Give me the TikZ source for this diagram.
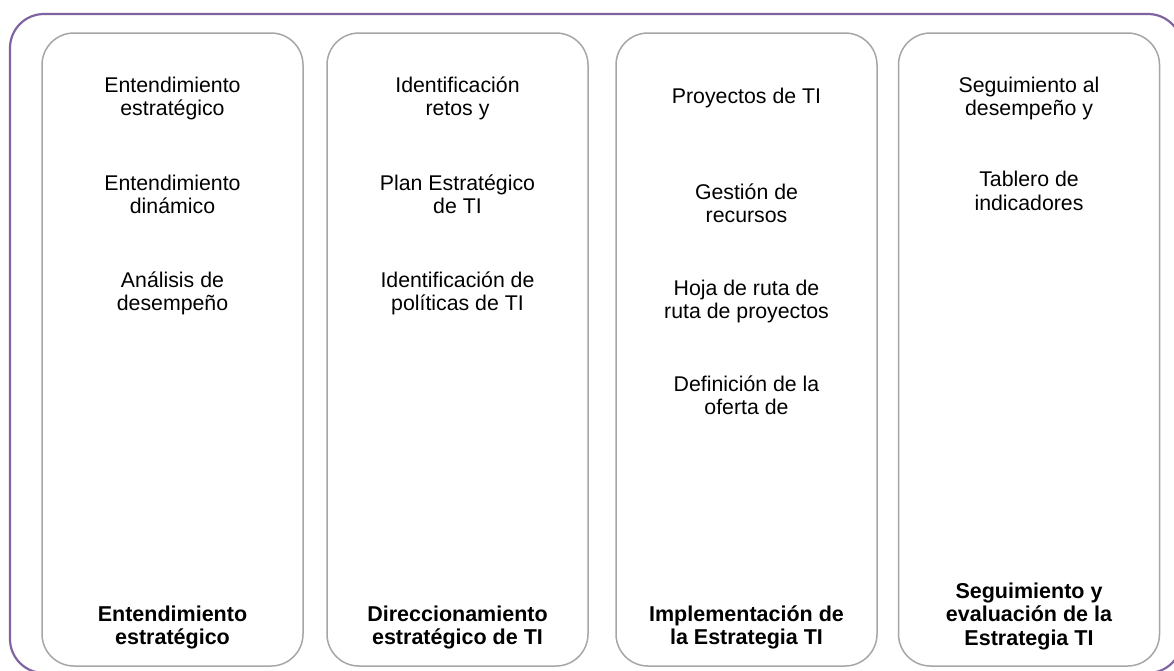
\documentclass[tikz,border=0pt]{standalone}
\usepackage{fontspec}
\setmainfont{Liberation Sans}
\definecolor{framepurple}{HTML}{8064A2}
\definecolor{boxgray}{HTML}{A6A6A6}
\newcommand{\itemfont}{\fontsize{21.3}{23.5}\selectfont}
\newcommand{\titlefont}{\fontsize{21.5}{23.5}\selectfont\bfseries}
\tikzset{
  colbox/.style={draw=boxgray, line width=1.5pt, rounded corners=32pt,
    minimum width=261pt, minimum height=633pt, inner sep=0pt},
  itemtext/.style={align=center, font=\itemfont, anchor=base, inner sep=0pt},
  titletext/.style={align=center, font=\titlefont, anchor=base, inner sep=0pt},
}
\begin{document}
\begin{tikzpicture}[x=1pt,y=-1pt]
\clip (0,0) rectangle (1174,670);
\fill[white] (0,0) rectangle (1174,670);
\draw[framepurple, line width=2.2pt, rounded corners=34pt] (10,14) rectangle (1182,673);

\node[colbox] (c1) at (172.5,349.5) {};
\node[colbox] (c2) at (457.5,349.5) {};
\node[colbox] (c3) at (746.5,349.5) {};
\node[colbox] (c4) at (1029,349.5) {};

% column 1 (y = baseline of the last line)
\node[itemtext] (a1) at (172.5,115.5) {Entendimiento\\estratégico};
\node[itemtext] (a2) at (172.5,213.5) {Entendimiento\\dinámico};
\node[itemtext] (a3) at (172.5,310.5) {Análisis de\\desempeño};
\node[titletext] (at) at (172.5,644.5) {Entendimiento\\estratégico};

% column 2
\node[itemtext] (b1) at (457.5,115.5) {Identificación\\retos y};
\node[itemtext] (b2) at (457.5,213.5) {Plan Estratégico\\de TI};
\node[itemtext] (b3) at (457.5,310.5) {Identificación de\\políticas de TI};
\node[titletext] (bt) at (457.5,644.5) {Direccionamiento\\estratégico de TI};

% column 3
\node[itemtext] (d1) at (746.5,103) {Proyectos de TI};
\node[itemtext] (d2) at (746.5,222.5) {Gestión de\\recursos};
\node[itemtext] (d3) at (746.5,318.5) {Hoja de ruta de\\ruta de proyectos};
\node[itemtext] (d4) at (746.5,414.5) {Definición de la\\oferta de};
\node[titletext] (dt) at (746.5,644.5) {Implementación de\\la Estrategia TI};

% column 4
\node[itemtext] (e1) at (1029,115.5) {Seguimiento al\\desempeño y};
\node[itemtext] (e2) at (1029,210) {Tablero de\\indicadores};
\node[titletext] (et) at (1029,645) {Seguimiento y\\evaluación de la\\Estrategia TI};
\end{tikzpicture}
\end{document}
